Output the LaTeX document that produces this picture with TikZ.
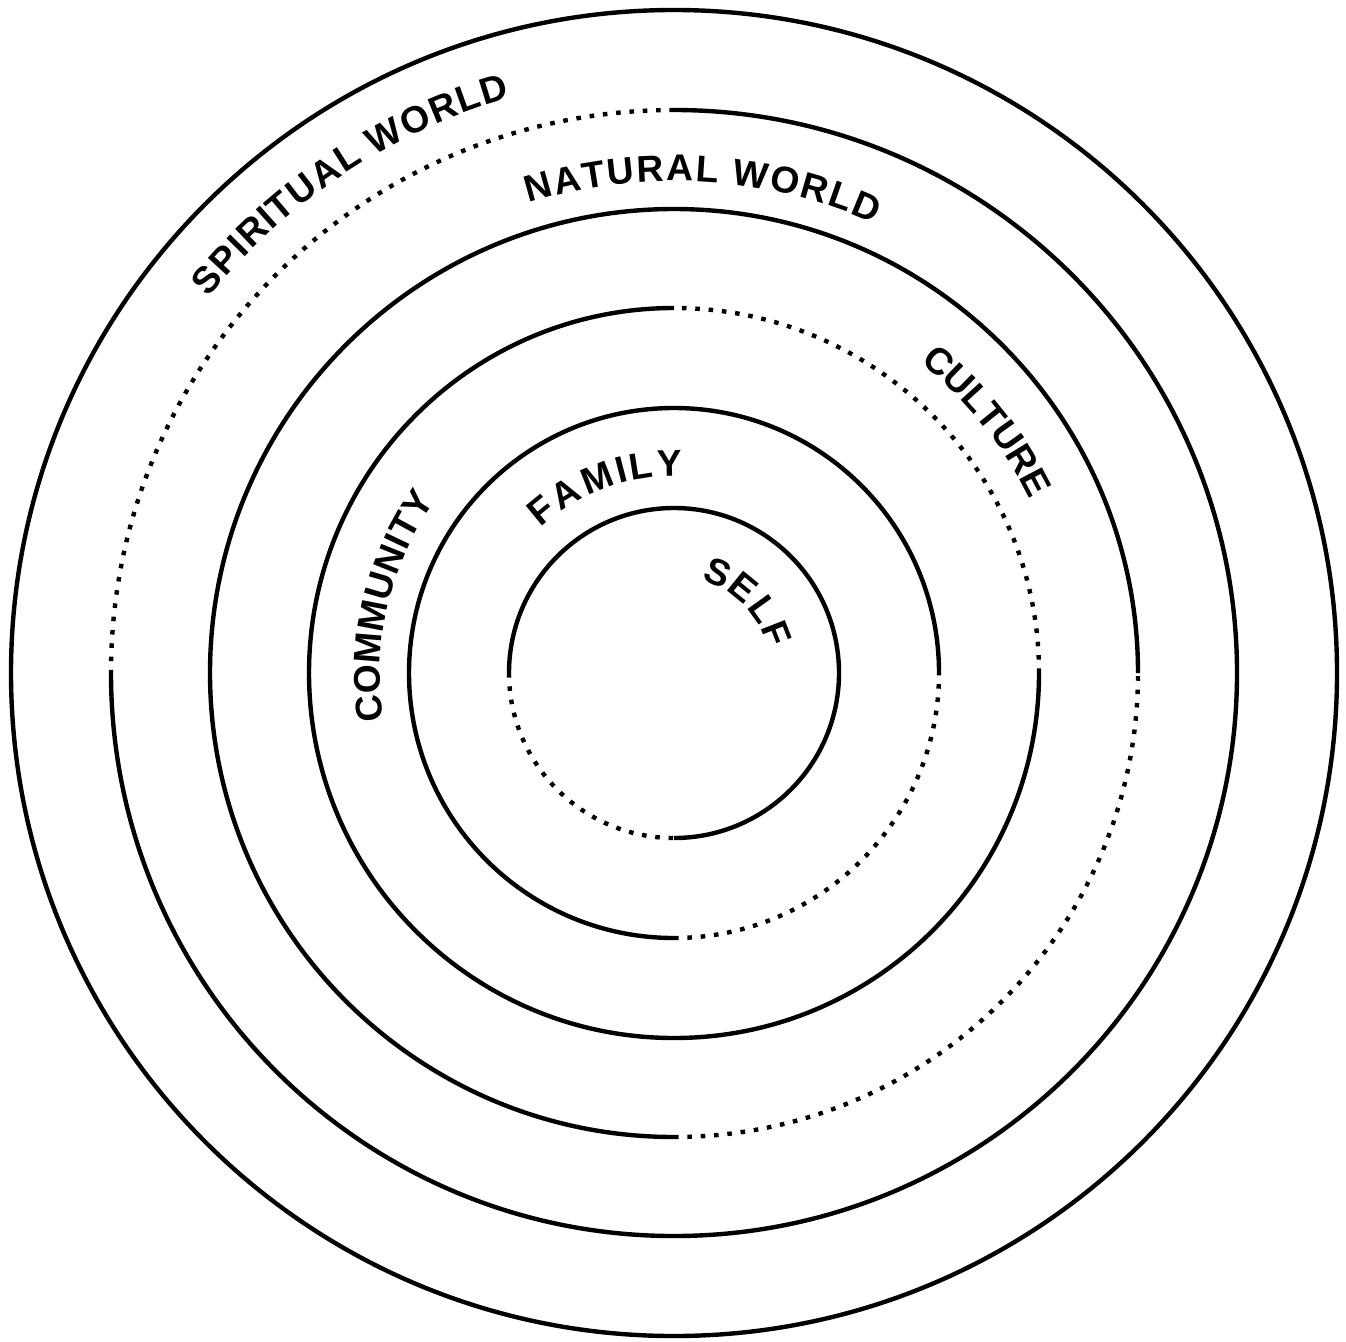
\documentclass[tikz,border=0pt]{standalone}
\usepackage{fontspec}
\setmainfont{Liberation Sans}
\usetikzlibrary{decorations.text}

\newcommand{\ringfont}{\fontsize{10.6pt}{12pt}\selectfont\bfseries}

\tikzset{
  ring/.style={line width=1.25pt},
  dotring/.style={ring, dash pattern=on 1.3pt off 2.5pt},
  ringlabel/.style={decorate, decoration={text effects along path, text={#1},
    text effects/.cd, text along path, fit text to path,
    characters={font=\ringfont, inner sep=0pt},
    character widths={inner xsep=0pt}}}
}

\begin{document}
\begin{tikzpicture}[font=\ringfont]
\useasboundingbox (0,0) rectangle (13.46,13.41);
\begin{scope}[shift={(6.74,6.68)}]
% outer ring
\draw[ring] (0,0) circle[radius=6.63];
% rings: one quarter dotted, the rest solid
\foreach \r/\a in {5.63/90, 4.64/270, 3.65/0, 2.65/270, 1.65/180} {
    \draw[dotring] (\a:\r) arc[start angle=\a, end angle=\a+90, radius=\r];
    \draw[ring] (\a+90:\r) arc[start angle=\a+90, end angle=\a+360, radius=\r];
}
% labels
\path[ringlabel={SPIRITUAL WORLD}] (141.1:5.98) arc[start angle=141.1, end angle=105.9, radius=5.98];
\path[ringlabel={NATURAL WORLD}] (107.2:4.92) arc[start angle=107.2, end angle=66.0, radius=4.92];
\path[ringlabel={CULTURE}] (51.6:3.96) arc[start angle=51.6, end angle=26.0, radius=3.96];
\path[ringlabel={COMMUNITY}] (189.3:2.94) arc[start angle=189.3, end angle=144.2, radius=2.94];
\path[ringlabel={FAMILY}] (132.6:1.97) arc[start angle=132.6, end angle=87.6, radius=1.97];
\path[ringlabel={SELF}] (74:0.97) arc[start angle=74, end angle=14.5, radius=0.97];
\end{scope}
\end{tikzpicture}
\end{document}
